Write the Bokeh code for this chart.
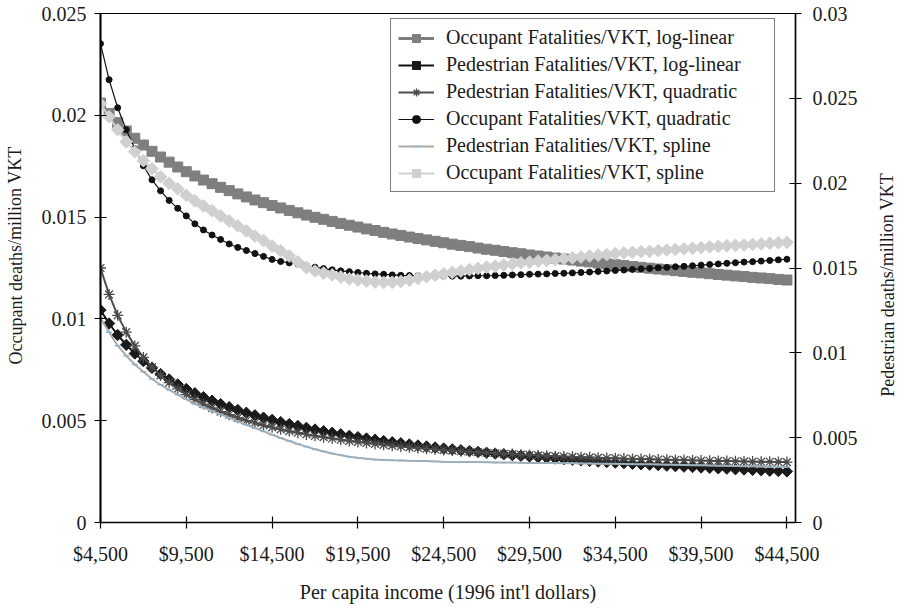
from bokeh.plotting import figure
from bokeh.layouts import row
from bokeh.models import (Range1d, LinearAxis, FixedTicker, CustomJSTickFormatter,
                          Legend, LegendItem, ColumnDataSource, Label)
from bokeh.embed import file_html
from bokeh.resources import INLINE

# ---------------- data ----------------
income = list(range(4500, 45000, 500))

x_ticks = [4500, 9500, 14500, 19500, 24500, 29500, 34500, 39500, 44500]
x_tick_labels = ["$4,500", "$9,500", "$14,500", "$19,500", "$24,500",
                 "$29,500", "$34,500", "$39,500", "$44,500"]
left_ticks = [0, 0.005, 0.01, 0.015, 0.02, 0.025]
right_ticks = [0, 0.005, 0.01, 0.015, 0.02, 0.025, 0.03]

occ_loglinear = [
    0.02060, 0.02009, 0.01964, 0.01923, 0.01887, 0.01854, 0.01823, 0.01795, 0.01770, 0.01746,
    0.01723, 0.01702, 0.01682, 0.01664, 0.01646, 0.01630, 0.01614, 0.01599, 0.01584, 0.01571,
    0.01557, 0.01545, 0.01533, 0.01521, 0.01510, 0.01499, 0.01489, 0.01479, 0.01469, 0.01460,
    0.01451, 0.01442, 0.01434, 0.01425, 0.01417, 0.01410, 0.01402, 0.01395, 0.01388, 0.01381,
    0.01374, 0.01367, 0.01361, 0.01355, 0.01348, 0.01342, 0.01337, 0.01331, 0.01325, 0.01320,
    0.01314, 0.01309, 0.01304, 0.01299, 0.01294, 0.01289, 0.01284, 0.01280, 0.01275, 0.01270,
    0.01266, 0.01262, 0.01257, 0.01253, 0.01249, 0.01245, 0.01241, 0.01237, 0.01233, 0.01229,
    0.01226, 0.01222, 0.01218, 0.01215, 0.01211, 0.01208, 0.01204, 0.01201, 0.01198, 0.01194,
    0.01191]

ped_loglinear = [
    0.01252, 0.01173, 0.01105, 0.01047, 0.00996, 0.00951, 0.00911, 0.00875, 0.00843, 0.00814,
    0.00787, 0.00762, 0.00739, 0.00718, 0.00698, 0.00680, 0.00663, 0.00647, 0.00632, 0.00618,
    0.00605, 0.00592, 0.00580, 0.00569, 0.00558, 0.00548, 0.00538, 0.00529, 0.00520, 0.00511,
    0.00503, 0.00495, 0.00488, 0.00480, 0.00473, 0.00467, 0.00460, 0.00454, 0.00448, 0.00442,
    0.00436, 0.00431, 0.00426, 0.00421, 0.00416, 0.00411, 0.00406, 0.00402, 0.00397, 0.00393,
    0.00389, 0.00385, 0.00381, 0.00377, 0.00373, 0.00370, 0.00366, 0.00363, 0.00359, 0.00356,
    0.00353, 0.00350, 0.00346, 0.00343, 0.00341, 0.00338, 0.00335, 0.00332, 0.00329, 0.00327,
    0.00324, 0.00322, 0.00319, 0.00317, 0.00314, 0.00312, 0.00310, 0.00308, 0.00305, 0.00303,
    0.00301]

ped_quadratic = [
    0.01500, 0.01344, 0.01221, 0.01122, 0.01041, 0.00973, 0.00916, 0.00867, 0.00824, 0.00787,
    0.00754, 0.00725, 0.00698, 0.00675, 0.00654, 0.00635, 0.00617, 0.00601, 0.00587, 0.00573,
    0.00561, 0.00549, 0.00539, 0.00529, 0.00519, 0.00511, 0.00503, 0.00495, 0.00488, 0.00481,
    0.00475, 0.00469, 0.00463, 0.00458, 0.00453, 0.00448, 0.00443, 0.00439, 0.00435, 0.00431,
    0.00427, 0.00424, 0.00420, 0.00417, 0.00414, 0.00411, 0.00408, 0.00405, 0.00403, 0.00400,
    0.00398, 0.00396, 0.00393, 0.00391, 0.00389, 0.00387, 0.00385, 0.00384, 0.00382, 0.00380,
    0.00379, 0.00377, 0.00375, 0.00374, 0.00373, 0.00371, 0.00370, 0.00369, 0.00368, 0.00366,
    0.00365, 0.00364, 0.00363, 0.00362, 0.00361, 0.00360, 0.00359, 0.00358, 0.00358, 0.00357,
    0.00356]

occ_quadratic = [
    0.02352, 0.02175, 0.02037, 0.01929, 0.01836, 0.01752, 0.01683, 0.01629, 0.01582, 0.01543,
    0.01506, 0.01467, 0.01437, 0.01412, 0.01390, 0.01368, 0.01351, 0.01336, 0.01321, 0.01307,
    0.01292, 0.01282, 0.01275, 0.01269, 0.01262, 0.01254, 0.01247, 0.01241, 0.01236, 0.01232,
    0.01228, 0.01224, 0.01221, 0.01219, 0.01216, 0.01214, 0.01213, 0.01212, 0.01211, 0.01210,
    0.01210, 0.01210, 0.01210, 0.01211, 0.01212, 0.01212, 0.01213, 0.01214, 0.01216, 0.01217,
    0.01219, 0.01220, 0.01221, 0.01223, 0.01224, 0.01226, 0.01228, 0.01230, 0.01233, 0.01235,
    0.01238, 0.01240, 0.01243, 0.01246, 0.01248, 0.01251, 0.01253, 0.01256, 0.01258, 0.01261,
    0.01264, 0.01267, 0.01270, 0.01273, 0.01276, 0.01279, 0.01281, 0.01284, 0.01287, 0.01290,
    0.01293]

ped_spline = [
    0.01205, 0.01122, 0.01042, 0.00983, 0.00931, 0.00889, 0.00846, 0.00812, 0.00781, 0.00753,
    0.00726, 0.00699, 0.00678, 0.00657, 0.00637, 0.00617, 0.00596, 0.00576, 0.00556, 0.00537,
    0.00517, 0.00498, 0.00480, 0.00463, 0.00447, 0.00432, 0.00419, 0.00407, 0.00397, 0.00388,
    0.00381, 0.00376, 0.00371, 0.00369, 0.00367, 0.00366, 0.00364, 0.00363, 0.00362, 0.00360,
    0.00358, 0.00357, 0.00357, 0.00356, 0.00356, 0.00355, 0.00354, 0.00353, 0.00353, 0.00352,
    0.00351, 0.00351, 0.00350, 0.00350, 0.00349, 0.00349, 0.00348, 0.00348, 0.00347, 0.00346,
    0.00346, 0.00345, 0.00344, 0.00343, 0.00343, 0.00342, 0.00341, 0.00340, 0.00339, 0.00338,
    0.00337, 0.00336, 0.00335, 0.00334, 0.00333, 0.00332, 0.00331, 0.00330, 0.00329, 0.00328,
    0.00327]

occ_spline = [
    0.02057, 0.01993, 0.01929, 0.01870, 0.01821, 0.01777, 0.01737, 0.01698, 0.01666, 0.01639,
    0.01607, 0.01580, 0.01555, 0.01531, 0.01506, 0.01481, 0.01457, 0.01432, 0.01407, 0.01385,
    0.01358, 0.01334, 0.01309, 0.01280, 0.01252, 0.01235, 0.01225, 0.01216, 0.01206, 0.01197,
    0.01191, 0.01186, 0.01181, 0.01179, 0.01180, 0.01184, 0.01191, 0.01199, 0.01207, 0.01214,
    0.01221, 0.01228, 0.01235, 0.01242, 0.01248, 0.01254, 0.01259, 0.01265, 0.01270, 0.01275,
    0.01279, 0.01284, 0.01287, 0.01291, 0.01296, 0.01300, 0.01304, 0.01309, 0.01313, 0.01316,
    0.01321, 0.01324, 0.01327, 0.01330, 0.01332, 0.01335, 0.01338, 0.01341, 0.01344, 0.01347,
    0.01350, 0.01354, 0.01356, 0.01359, 0.01361, 0.01363, 0.01366, 0.01368, 0.01371, 0.01374,
    0.01376]

labels = ["Occupant Fatalities/VKT, log-linear",
          "Pedestrian Fatalities/VKT, log-linear",
          "Pedestrian Fatalities/VKT, quadratic",
          "Occupant Fatalities/VKT, quadratic",
          "Pedestrian Fatalities/VKT, spline",
          "Occupant Fatalities/VKT, spline"]

# ---------------- figure ----------------
FONT = "Liberation Serif"
TXT = "#1a1a1a"
H = 606

source = ColumnDataSource(dict(x=income, a=occ_loglinear, b=ped_loglinear, c=ped_quadratic,
                               d=occ_quadratic, e=ped_spline, f=occ_spline))

p = figure(width=845, height=H, x_range=Range1d(4500, 45000), y_range=Range1d(0, 0.025),
           output_backend="svg", toolbar_location=None,
           min_border_left=72, min_border_right=78, min_border_top=13, min_border_bottom=84)
p.extra_y_ranges = {"ped": Range1d(0, 0.03)}
p.xgrid.visible = False
p.ygrid.visible = False
p.outline_line_color = "black"
p.outline_line_width = 1.2
p.background_fill_color = "white"

yfmt = CustomJSTickFormatter(code="return String(Math.round(tick*1000)/1000);")

def style_axis(ax):
    ax.major_label_text_font = FONT
    ax.major_label_text_font_size = "20px"
    ax.major_label_text_color = TXT
    ax.axis_label_text_font = FONT
    ax.axis_label_text_font_size = "20px"
    ax.axis_label_text_font_style = "normal"
    ax.axis_label_text_color = TXT
    ax.axis_line_color = "black"
    ax.axis_line_width = 1.5
    ax.major_tick_line_color = "black"
    ax.major_tick_line_width = 1.2
    ax.major_tick_in = 6
    ax.major_tick_out = 6
    ax.minor_tick_line_color = None

xa = p.xaxis[0]
style_axis(xa)
xa.ticker = FixedTicker(ticks=x_ticks)
xa.major_label_overrides = {t: l for t, l in zip(x_ticks, x_tick_labels)}
xa.axis_label = "Per capita income (1996 int'l dollars)"
xa.major_label_standoff = 14
xa.axis_label_standoff = 13

ya = p.yaxis[0]
style_axis(ya)
ya.axis_line_width = 2
ya.ticker = FixedTicker(ticks=left_ticks)
ya.formatter = yfmt
ya.major_label_standoff = 8

ra = LinearAxis(y_range_name="ped", ticker=FixedTicker(ticks=right_ticks), formatter=yfmt)
style_axis(ra)
ra.major_label_standoff = 11
p.add_layout(ra, "right")

# ---------------- series ----------------
la = p.line("x", "a", source=source, line_color="#7f7f7f", line_width=3)
ma = p.scatter("x", "a", source=source, marker="square", size=10,
               fill_color="#7f7f7f", line_color="#7f7f7f")

lb = p.line("x", "b", source=source, line_color="#111111", line_width=2, y_range_name="ped")
mb = p.scatter("x", "b", source=source, marker="square", angle=0.7854, size=8,
               fill_color="#1a1a1a", line_color="#1a1a1a", y_range_name="ped")

lc = p.line("x", "c", source=source, line_color="#4d4d4d", line_width=2, y_range_name="ped")
mc = p.scatter("x", "c", source=source, marker="asterisk", size=11, line_width=1.3,
               line_color="#4a4a4a", y_range_name="ped")

ld = p.line("x", "d", source=source, line_color="#111111", line_width=1.2)
md = p.scatter("x", "d", source=source, marker="circle", size=6,
               fill_color="#111111", line_color="#111111")

le = p.line("x", "e", source=source, line_color="#ababab", line_width=2, y_range_name="ped")
me = p.scatter("x", "e", source=source, marker="dash", size=6, line_width=1.5,
               line_color="#8fb3c9", y_range_name="ped")

lf = p.line("x", "f", source=source, line_color="#d0d0d0", line_width=2)
mf = p.scatter("x", "f", source=source, marker="square", angle=0.7854, size=9,
               fill_color="#d0d0d0", line_color="#d0d0d0")

pairs = [(la, ma), (lb, mb), (lc, mc), (ld, md), (le, me), (lf, mf)]
items = [LegendItem(label=lab, renderers=[l, m]) for lab, (l, m) in zip(labels, pairs)]
legend = Legend(items=items, location=(290, 330), margin=0,
                border_line_color="black", border_line_width=1,
                background_fill_color="white", background_fill_alpha=1,
                label_text_font=FONT, label_text_font_size="20px", label_text_color=TXT,
                glyph_width=36, glyph_height=20, label_height=20, spacing=4,
                padding=7, label_standoff=12, label_width=321)
p.add_layout(legend)

# ---------------- axis titles in narrow side panels (both read bottom-to-top) ----------------
def title_panel(width, xc, yc, text):
    tp = figure(width=width, height=H, x_range=Range1d(0, width), y_range=Range1d(0, H),
                x_axis_type=None, y_axis_type=None, output_backend="svg",
                toolbar_location=None, min_border=0)
    tp.xgrid.visible = False
    tp.ygrid.visible = False
    tp.outline_line_color = None
    tp.add_layout(Label(x=xc, y=yc, text=text, angle=1.5708,
                        text_align="center", text_baseline="middle",
                        text_font=FONT, text_font_size="18px", text_color=TXT))
    return tp

left_panel = title_panel(28, 15, 318, "Occupant deaths/million VKT")
right_panel = title_panel(27, 14, 283, "Pedestrian deaths/million VKT")

layout = row(left_panel, p, right_panel)
open("out.html", "w").write(file_html(layout, INLINE))
